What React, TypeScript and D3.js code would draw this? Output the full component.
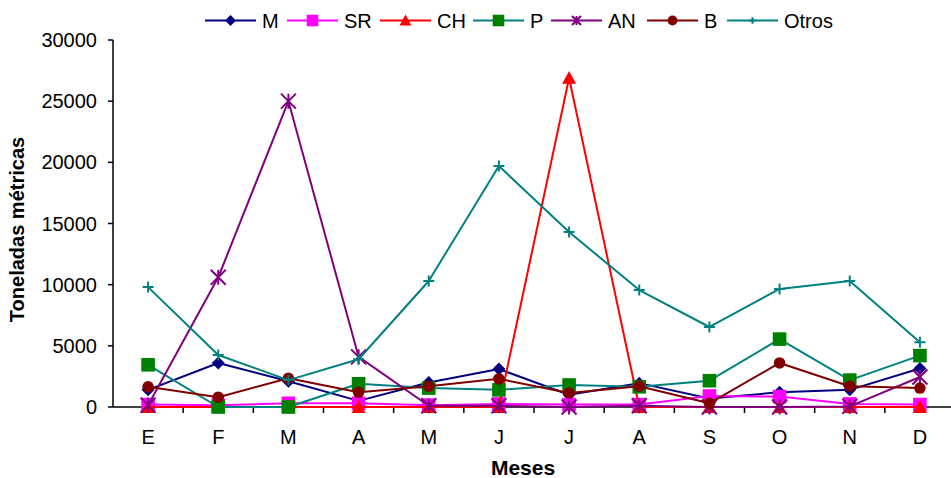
import React from "react";
import * as d3 from "d3";

// Month initials (Spanish)
const months = ["E", "F", "M", "A", "M", "J", "J", "A", "S", "O", "N", "D"];

// Monthly tonnage per group
const seriesM = [1400, 3600, 2100, 500, 2000, 3100, 1000, 1950, 700, 1200, 1400, 3150];
const seriesSR = [200, 150, 300, 300, 150, 250, 200, 200, 900, 850, 250, 200];
const seriesCH = [0, 0, 0, 0, 0, 0, 26900, 0, 0, 0, 0, 0];
const seriesP = [3450, 0, 0, 1900, 1550, 1400, 1800, 1650, 2150, 5550, 2200, 4200];
const seriesAN = [150, 10600, 25000, 4100, 100, 100, 0, 100, 0, 0, 50, 2450];
const seriesB = [1650, 800, 2350, 1200, 1700, 2300, 1150, 1700, 300, 3600, 1700, 1550];
const seriesOtros = [9800, 4250, 2200, 3900, 10300, 19700, 14300, 9560, 6540, 9650, 10300, 5300];

const yTicks = [0, 5000, 10000, 15000, 20000, 25000, 30000];

type Marker = "diamond" | "square" | "triangle" | "circle" | "asterisk" | "plus";

interface Series {
  name: string;
  values: number[];
  line: string;
  fill: string;
  marker: Marker;
}

const series: Series[] = [
  { name: "M", values: seriesM, line: "#000080", fill: "#000080", marker: "diamond" },
  { name: "SR", values: seriesSR, line: "#FF00FF", fill: "#FF00FF", marker: "square" },
  { name: "CH", values: seriesCH, line: "#FF0000", fill: "#FF0000", marker: "triangle" },
  { name: "P", values: seriesP, line: "#008080", fill: "#008000", marker: "square" },
  { name: "AN", values: seriesAN, line: "#800080", fill: "#800080", marker: "asterisk" },
  { name: "B", values: seriesB, line: "#800000", fill: "#800000", marker: "circle" },
  { name: "Otros", values: seriesOtros, line: "#008080", fill: "#008080", marker: "plus" },
];

const FONT = "'Liberation Sans', Arial, Helvetica, sans-serif";
const W = 951;
const H = 478;
const plotLeft = 113;
const plotRight = 955;
const plotTop = 40;
const plotBottom = 407;

// legend layout: left edge of each entry's line sample
const legendX = [205, 287, 380, 473, 551, 647, 727];
const legendY = 20.5;
const legendLine = 51;

function MarkerShape({ kind, x, y, fill, stroke, k = 1 }: { kind: Marker; x: number; y: number; fill: string; stroke: string; k?: number }) {
  switch (kind) {
    case "diamond": {
      const r = 6.5 * k;
      return <path d={`M${x},${y - r}L${x + r},${y}L${x},${y + r}L${x - r},${y}Z`} fill={fill} />;
    }
    case "square": {
      const r = 6.8 * k;
      return <rect x={x - r} y={y - r} width={2 * r} height={2 * r} fill={fill} />;
    }
    case "triangle": {
      const r = 7 * k;
      return <path d={`M${x},${y - r}L${x + r},${y + r * 0.85}L${x - r},${y + r * 0.85}Z`} fill={fill} />;
    }
    case "circle":
      return <circle cx={x} cy={y} r={5.8 * k} fill={fill} />;
    case "asterisk": {
      const r = 7.5 * k;
      return (
        <path
          d={`M${x - r},${y - r}L${x + r},${y + r}M${x - r},${y + r}L${x + r},${y - r}M${x},${y - r}L${x},${y + r}`}
          stroke={stroke}
          strokeWidth={2}
          fill="none"
        />
      );
    }
    case "plus": {
      const r = 5.5 * k;
      return (
        <path d={`M${x - r},${y}L${x + r},${y}M${x},${y - r}L${x},${y + r}`} stroke={stroke} strokeWidth={2} fill="none" />
      );
    }
  }
}

export default function App() {
  const x = d3
    .scaleBand<number>()
    .domain(d3.range(months.length))
    .range([plotLeft, plotRight])
    .paddingInner(0)
    .paddingOuter(0);
  const y = d3.scaleLinear().domain([0, 30000]).range([plotBottom, plotTop]);
  const cx = (i: number) => (x(i) as number) + x.bandwidth() / 2;

  const line = d3
    .line<number>()
    .x((_, i) => cx(i))
    .y((v) => y(v));

  return (
    <svg width={W} height={H} style={{ display: "block", position: "absolute", left: 0, top: 0, background: "#fff" }}>
      <rect x={0} y={0} width={W} height={H} fill="#fff" />

      {/* legend */}
      <g fontFamily={FONT} fontSize={20}>
        {series.map((s, i) => {
          const lx = legendX[i];
          const small = s.marker === "asterisk" || s.marker === "plus" ? 0.6 : 0.85;
          return (
            <g key={s.name}>
              <line x1={lx} x2={lx + legendLine} y1={legendY} y2={legendY} stroke={s.line} strokeWidth={2} />
              <MarkerShape kind={s.marker} x={lx + legendLine / 2} y={legendY} fill={s.fill} stroke={s.fill} k={small} />
              <text x={lx + legendLine + 6} y={legendY + 7} fill="#000">
                {s.name}
              </text>
            </g>
          );
        })}
      </g>

      {/* y axis */}
      <line x1={plotLeft} x2={plotLeft} y1={plotTop} y2={plotBottom} stroke="#000" strokeWidth={1.5} />
      {yTicks.map((t) => (
        <g key={t}>
          <line x1={plotLeft - 5} x2={plotLeft} y1={y(t)} y2={y(t)} stroke="#000" strokeWidth={1.5} />
          <text x={97} y={y(t) + 7} textAnchor="end" fontFamily={FONT} fontSize={20} fill="#000">
            {t}
          </text>
        </g>
      ))}
      <text
        transform={`translate(24,${(plotTop + plotBottom) / 2 + 6}) rotate(-90)`}
        textAnchor="middle"
        fontFamily={FONT}
        fontSize={20}
        fontWeight="bold"
        fill="#000"
      >
        Toneladas métricas
      </text>

      {/* x axis */}
      <line x1={plotLeft} x2={W} y1={plotBottom} y2={plotBottom} stroke="#000" strokeWidth={1.5} />
      {d3.range(1, months.length).map((i) => (
        <line key={i} x1={x(i) as number} x2={x(i) as number} y1={plotBottom} y2={plotBottom + 6} stroke="#000" strokeWidth={1.5} />
      ))}
      {months.map((m, i) => (
        <text key={i} x={cx(i)} y={444} textAnchor="middle" fontFamily={FONT} fontSize={20} fill="#000">
          {m}
        </text>
      ))}
      <text x={523} y={475} textAnchor="middle" fontFamily={FONT} fontSize={21} fontWeight="bold" fill="#000">
        Meses
      </text>

      {/* series */}
      {series.map((s) => (
        <g key={s.name}>
          <path d={line(s.values) || ""} fill="none" stroke={s.line} strokeWidth={2} strokeLinejoin="round" />
          {s.values.map((v, i) => (
            <MarkerShape key={i} kind={s.marker} x={cx(i)} y={y(v)} fill={s.fill} stroke={s.fill} />
          ))}
        </g>
      ))}
    </svg>
  );
}
